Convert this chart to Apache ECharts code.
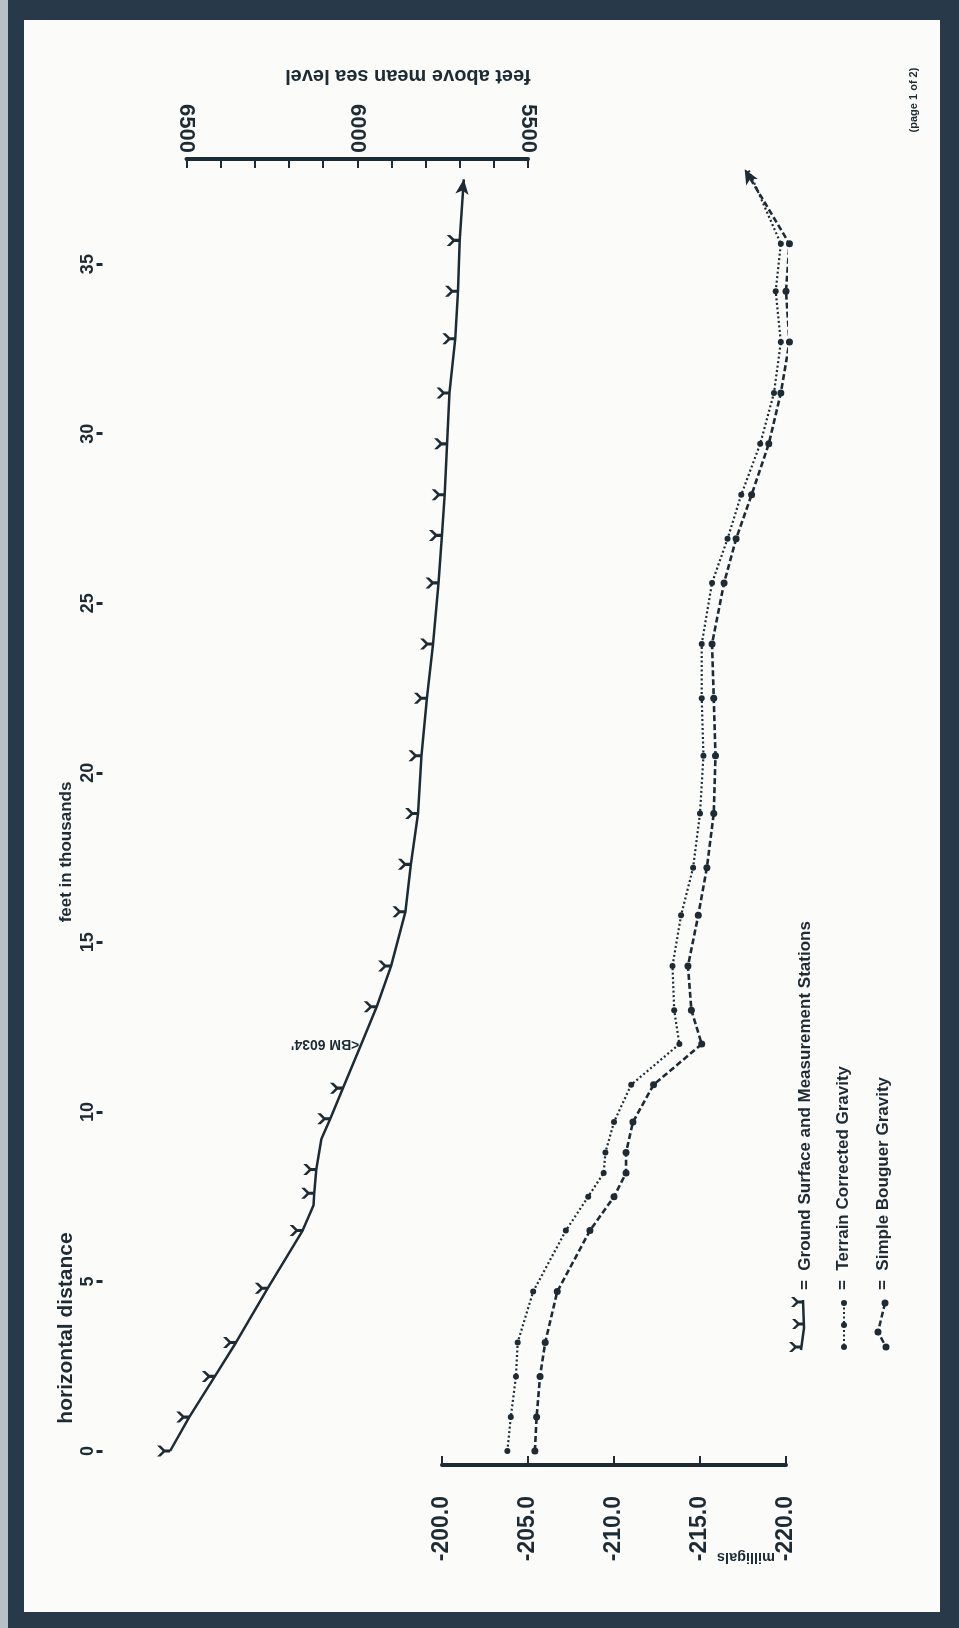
<!DOCTYPE html>
<html>
<head>
<meta charset="utf-8">
<script src="https://cdn.jsdelivr.net/npm/echarts@6/dist/echarts.min.js"></script>
<style>
html, body { margin: 0; padding: 0; background: #28394a; }
#edge { position: absolute; left: 0; top: 0; width: 8px; height: 1628px; background: #b8c0c7; }
#paper { position: absolute; left: 24px; top: 20px; width: 916px; height: 1592px; background: #fbfbfa; }
#chart { position: absolute; left: 0; top: 0; width: 959px; height: 1628px; }
</style>
</head>
<body>
<div id="edge"></div>
<div id="paper"></div>
<div id="chart"></div>
<script>
var chart = echarts.init(document.getElementById('chart'), null, { renderer: 'canvas' });

// distance along the line, thousands of feet
var distTicks = [0, 5, 10, 15, 20, 25, 30, 35];
var elevLabels = [5500, 6000, 6500];

// ground surface profile (feet above mean sea level)
var profileDist = [0.0, 1.0, 2.2, 3.2, 4.8, 6.5, 7.25, 7.6, 8.3, 9.2, 9.8, 10.7, 12.0, 13.1, 14.3, 15.9, 17.3, 18.8, 20.5, 22.2, 23.8, 25.6, 27.0, 28.2, 29.7, 31.2, 32.8, 34.2, 35.7, 37.5];
var profileElev = [6548, 6492, 6417, 6355, 6262, 6160, 6128, 6126, 6120, 6105, 6079, 6042, 5988, 5943, 5901, 5859, 5843, 5822, 5812, 5796, 5778, 5762, 5752, 5744, 5737, 5730, 5713, 5705, 5700, 5688];
var profileStation = [1, 1, 1, 1, 1, 1, 0, 1, 1, 0, 1, 1, 1, 1, 1, 1, 1, 1, 1, 1, 1, 1, 1, 1, 1, 1, 1, 1, 1, 0];
var bmIndex = 12;
var bmText = "<BM 6034'";

// gravity stations (milligals)
var gravDist = [0.0, 1.0, 2.2, 3.2, 4.7, 6.5, 7.5, 8.2, 8.8, 9.7, 10.8, 12.0, 13.0, 14.3, 15.8, 17.2, 18.8, 20.5, 22.2, 23.8, 25.6, 26.9, 28.2, 29.7, 31.2, 32.7, 34.2, 35.6, 37.8];
var terrainCorrected = [-203.8, -204.0, -204.3, -204.4, -205.3, -207.2, -208.5, -209.4, -209.5, -210.0, -211.0, -213.8, -213.5, -213.4, -213.9, -214.6, -215.0, -215.2, -215.1, -215.1, -215.7, -216.6, -217.4, -218.5, -219.3, -219.7, -219.4, -219.7, -217.8];
var simpleBouguer = [-205.4, -205.5, -205.7, -206.0, -206.7, -208.6, -210.0, -210.7, -210.7, -211.1, -212.3, -215.1, -214.5, -214.3, -214.9, -215.4, -215.8, -215.9, -215.8, -215.7, -216.4, -217.1, -218.0, -219.0, -219.7, -220.2, -220.0, -220.2, -217.6];

var ink = '#1d2b35';
var font = '"Liberation Sans", Arial, sans-serif';
var yShape = [[0, 0], [3.2, 0], [7, 3.6], [12, 3.6], [12, 6.4], [7, 6.4], [3.2, 10], [0, 10], [5, 5]];
var yPath = 'path://M' + yShape.map(function (p) { return p[0] + ' ' + p[1]; }).join(' L') + ' Z';
var distMax = 38.1;

// elevation scale: 1000 ft over 341.5 px; the profile grid runs on to 6600 ft so the
// start of the ground line (above 6500) is drawn on the same scale
var elevRight = 431;
var elevWidth = 341.5;
var profileLeft = 959 - elevRight - elevWidth * 1.1;

var profileData = profileDist.map(function (d, i) {
    var item = { value: [profileElev[i], d] };
    if (i === profileDist.length - 1) {
        item.symbol = 'arrow';
        item.symbolSize = [10, 15];
        item.symbolRotate = -7;
        item.symbolOffset = [0, 0];
    } else if (!profileStation[i] || i === bmIndex) {
        item.symbol = 'none';
    }
    return item;
});

function gravData(values, last) {
    return gravDist.map(function (d, i) {
        var item = { value: [values[i], d] };
        if (i === gravDist.length - 1) {
            if (last) {
                item.symbol = 'arrow';
                item.symbolSize = [10, 15];
                item.symbolRotate = 29;
            } else {
                item.symbol = 'none';
            }
        }
        return item;
    });
}

var option = {
    animation: false,
    backgroundColor: 'transparent',
    grid: [
        { left: 959 - elevRight - elevWidth, right: elevRight, top: 159, bottom: 177 },
        { left: 442, right: 173, top: 159, bottom: 177 },
        { left: profileLeft, right: elevRight, top: 159, bottom: 177 }
    ],
    xAxis: [{
        gridIndex: 0,
        type: 'value',
        position: 'top',
        min: 5500,
        max: 6500,
        interval: 100,
        inverse: true,
        axisLine: { show: true, onZero: false, lineStyle: { color: ink, width: 4 } },
        axisTick: { inside: true, length: 9, lineStyle: { color: ink, width: 2 } },
        axisLabel: {
            customValues: elevLabels,
            rotate: 90,
            margin: 6,
            color: ink,
            fontSize: 22,
            fontWeight: 'bold',
            fontFamily: font,
            formatter: function (v) { return String(v); }
        },
        splitLine: { show: false }
    }, {
        gridIndex: 1,
        type: 'value',
        position: 'bottom',
        offset: 14,
        min: -220,
        max: -200,
        interval: 5,
        inverse: true,
        axisLine: { show: true, onZero: false, lineStyle: { color: ink, width: 4 } },
        axisTick: { inside: true, length: 9, lineStyle: { color: ink, width: 2 } },
        axisLabel: {
            rotate: 90,
            margin: 31,
            color: ink,
            fontSize: 23,
            fontWeight: 'bold',
            fontFamily: font,
            formatter: function (v) { return v.toFixed(1); }
        },
        splitLine: { show: false }
    }, {
        gridIndex: 2,
        type: 'value',
        min: 5500,
        max: 6600,
        inverse: true,
        show: false
    }],
    yAxis: [{
        gridIndex: 0,
        type: 'value',
        min: 0,
        max: distMax,
        position: 'left',
        offset: 84,
        axisLine: { show: false, onZero: false },
        axisTick: { show: true, length: 6, customValues: distTicks, lineStyle: { color: ink, width: 3 } },
        axisLabel: {
            customValues: distTicks,
            rotate: 90,
            margin: 5,
            color: ink,
            fontSize: 18,
            fontWeight: 'bold',
            fontFamily: font
        },
        splitLine: { show: false }
    }, {
        gridIndex: 1,
        type: 'value',
        min: 0,
        max: distMax,
        show: false
    }, {
        gridIndex: 2,
        type: 'value',
        min: 0,
        max: distMax,
        show: false
    }],
    series: [{
        name: 'Ground Surface and Measurement Stations',
        type: 'line',
        xAxisIndex: 2,
        yAxisIndex: 2,
        clip: false,
        symbol: yPath,
        symbolSize: [13, 11],
        symbolOffset: [-6.5, 0],
        itemStyle: { color: ink },
        lineStyle: { color: ink, width: 2.5 },
        data: profileData
    }, {
        name: 'Terrain Corrected Gravity',
        type: 'line',
        xAxisIndex: 1,
        yAxisIndex: 1,
        clip: false,
        symbol: 'circle',
        symbolSize: 6,
        itemStyle: { color: ink },
        lineStyle: { color: ink, width: 2.2, type: [2, 2.5] },
        data: gravData(terrainCorrected, false)
    }, {
        name: 'Simple Bouguer Gravity',
        type: 'line',
        xAxisIndex: 1,
        yAxisIndex: 1,
        clip: false,
        symbol: 'circle',
        symbolSize: 7,
        itemStyle: { color: ink },
        lineStyle: { color: ink, width: 2.6, type: [6, 3] },
        data: gravData(simpleBouguer, true)
    }]
};

chart.setOption(option);

function txt(x, y, rot, text, size, align) {
    return {
        type: 'text', x: x, y: y, rotation: rot, silent: true,
        style: {
            text: text, fill: ink, fontSize: size, fontWeight: 'bold', fontFamily: font,
            align: align || 'center', verticalAlign: 'middle'
        }
    };
}

function yMark(x, y) {
    // station mark with its stem ending at (x, y)
    return {
        type: 'polygon', silent: true,
        shape: { points: yShape.map(function (p) { return [x - 12 + p[0], y - 5 + p[1]]; }) },
        style: { fill: ink }
    };
}

var bm = chart.convertToPixel({ gridIndex: 2 }, [profileElev[bmIndex], profileDist[bmIndex]]);
var up = Math.PI / 2;

var graphics = [
    txt(66, 1328, up, 'horizontal distance', 21),
    txt(66, 852, up, 'feet in thousands', 17),
    txt(408, 76, Math.PI, 'feet above mean sea level', 20),
    txt(746, 1557, Math.PI, 'milligals', 14.5),
    txt(914, 100, up, '(page 1 of 2)', 11),
    txt(bm[0] - 2, bm[1], Math.PI, bmText, 14, 'left'),
    // legend
    txt(805, 1290, up, '=  Ground Surface and Measurement Stations', 17, 'left'),
    txt(843, 1290, up, '=  Terrain Corrected Gravity', 17, 'left'),
    txt(883, 1290, up, '=  Simple Bouguer Gravity', 17, 'left'),
    { type: 'polyline', silent: true, shape: { points: [[801, 1350], [804, 1328], [803, 1300]] },
      style: { stroke: ink, lineWidth: 2.5, fill: null } },
    { type: 'line', silent: true, shape: { x1: 844, y1: 1303, x2: 844, y2: 1347 },
      style: { stroke: ink, lineWidth: 2, lineDash: [2, 2.5] } },
    { type: 'polyline', silent: true, shape: { points: [[885, 1303], [878, 1332], [886, 1347]] },
      style: { stroke: ink, lineWidth: 2.5, lineDash: [6, 3], fill: null } },
    yMark(803, 1302), yMark(804, 1324), yMark(801, 1347)
];
[1303, 1325, 1347].forEach(function (y) {
    graphics.push({ type: 'circle', silent: true, shape: { cx: 844, cy: y, r: 3 }, style: { fill: ink } });
});
[[885, 1303], [878, 1332], [886, 1347]].forEach(function (p) {
    graphics.push({ type: 'circle', silent: true, shape: { cx: p[0], cy: p[1], r: 3.5 }, style: { fill: ink } });
});

chart.setOption({ graphic: graphics });

window.addEventListener('resize', chart.resize);
</script>
</body>
</html>
